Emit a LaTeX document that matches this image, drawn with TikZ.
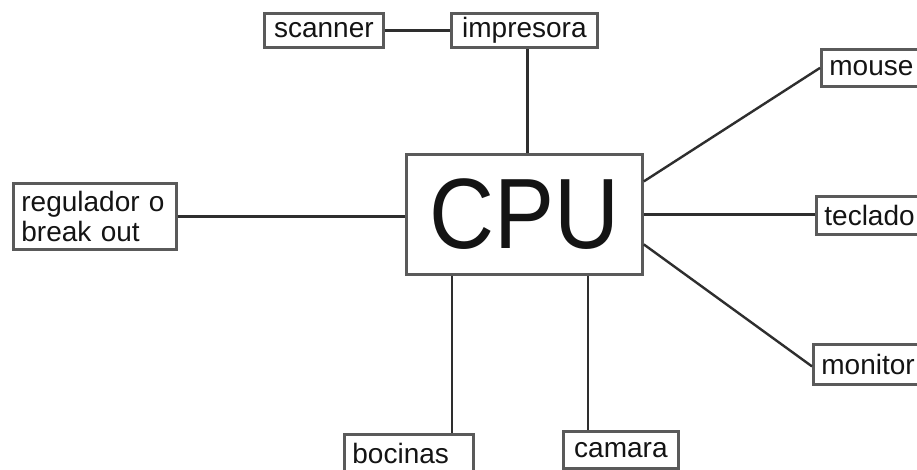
\documentclass[tikz,border=0pt]{standalone}
\usepackage{fontspec}
\setmainfont{Liberation Sans}
\usetikzlibrary{calc}
\definecolor{boxgray}{HTML}{5A5A5A}
\definecolor{linegray}{HTML}{2E2E2E}
\definecolor{txt}{HTML}{141414}
\tikzset{
  dev/.style={draw=boxgray, line width=2.8pt, fill=white, anchor=north west,
    inner xsep=8pt, inner ysep=0pt, align=left, text=txt,
    font=\fontsize{28}{30}\selectfont},
  conn/.style={draw=linegray, line width=2.4pt},
}
\begin{document}
\begin{tikzpicture}[x=1pt,y=-1pt]
\useasboundingbox (0,0) rectangle (917,469);
\clip (0,0) rectangle (917,469);
\fill[white] (0,0) rectangle (917,469);
% nodes
\node[dev, minimum width=236pt, minimum height=120pt, inner xsep=0pt, align=center,
      font=\fontsize{100}{100}\selectfont] (cpu) at (405,153) {\scalebox{0.9}[1]{CPU}};
\node[dev, minimum width=119pt, minimum height=34pt] (scanner) at (263,12) {scanner};
\node[dev, minimum width=146pt, minimum height=34pt] (impresora) at (450,12) {impresora};
\node[dev, minimum width=150pt, minimum height=37pt, text width=134pt] (mouse) at (820,48) {mouse};
\node[dev, minimum width=150pt, minimum height=38pt, text width=134pt] (teclado) at (815,195) {teclado};
\node[dev, minimum width=150pt, minimum height=40pt, text width=134pt] (monitor) at (812,343) {monitor};
\node[dev, minimum width=163pt, minimum height=66pt, text width=147pt] (regulador) at (12,182) {regulador o\\break out};
\node[dev, minimum width=129pt, minimum height=38pt, text width=113pt] (bocinas) at (343,433) {bocinas};
\node[dev, minimum width=115pt, minimum height=37pt] (camara) at (562,430) {camara};
% connector anchor points
\coordinate (impB) at ($(impresora.south)+(3,0)$);
\coordinate (cpuM) at ($(cpu.east)+(0,-33)$);
\coordinate (cpuN) at ($(cpu.east)+(0,30)$);
\coordinate (monW) at ($(monitor.west)+(0,2)$);
\coordinate (cpuB) at ($(cpu.south west)+(47,0)$);
\coordinate (cpuC) at ($(cpu.south west)+(183,0)$);
% connectors
\draw[conn] (scanner.east) -- (impresora.west);
\draw[conn] (impB) -- (impB |- cpu.north);
\draw[conn] (regulador.east) -- (regulador.east -| cpu.west);
\draw[conn] (cpuM) -- (mouse.west);
\draw[conn] (cpu.east) -- (cpu.east -| teclado.west);
\draw[conn] (cpuN) -- (monW);
\draw[conn] (cpuB) -- (cpuB |- bocinas.north);
\draw[conn] (cpuC) -- (cpuC |- camara.north);
\end{tikzpicture}
\end{document}
